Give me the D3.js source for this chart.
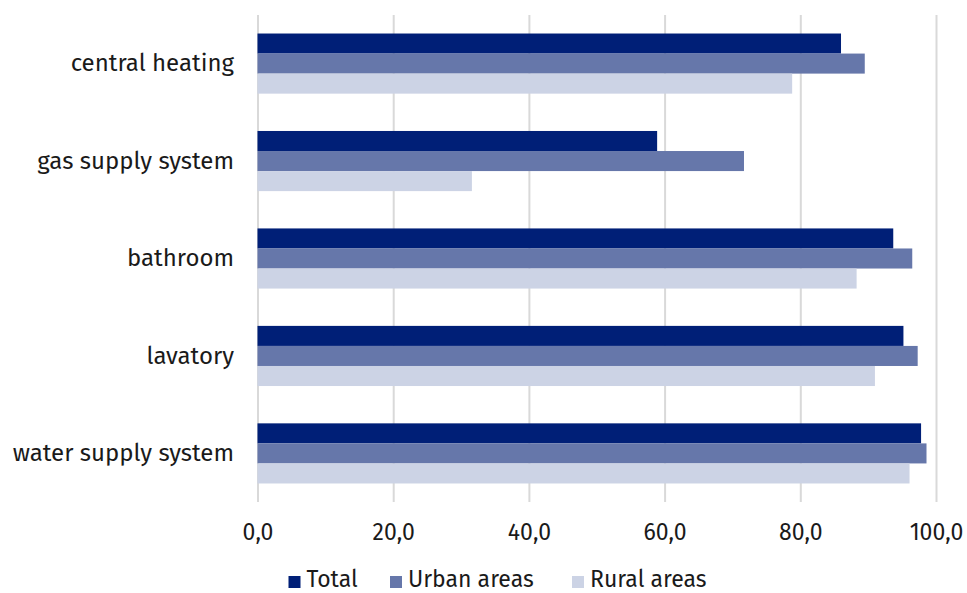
<!DOCTYPE html>
<html lang="en">
<head>
    <meta charset="UTF-8">
    <title>Dwellings equipment</title>
    <script src="https://cdn.jsdelivr.net/npm/d3@7"></script>
    <style>
        body { margin: 0; background: #fff; }
        text { font-family: "Fira Sans", "Noto Sans", "Open Sans", sans-serif; fill: #1a1a1a; }
    </style>
</head>
<body>
<svg width="967" height="593" id="svgcontainer"></svg>
<script>
    const categories = ['central heating', 'gas supply system', 'bathroom', 'lavatory', 'water supply system'];
    const seriesNames = ['Total', 'Urban areas', 'Rural areas'];
    const total = [86.0, 58.9, 93.7, 95.2, 97.8];
    const urban = [89.5, 71.7, 96.5, 97.3, 98.6];
    const rural = [78.8, 31.6, 88.3, 91.0, 96.1];
    const xTicks = [0, 20, 40, 60, 80, 100];
    const colors = ['#001f77', '#6677aa', '#ccd3e5'];

    const values = [total, urban, rural];
    const data = categories.map((c, i) => ({name: c, vals: seriesNames.map((s, k) => ({series: s, value: values[k][i]}))}));

    const svg = d3.select('#svgcontainer');
    const plotLeft = 257.5, plotRight = 936, plotTop = 15, plotBottom = 502;

    const xScale = d3.scaleLinear().domain([0, 100]).range([plotLeft, plotRight]);
    const yScale = d3.scaleBand().domain(categories).range([plotTop, plotBottom]).paddingInner(0.383).paddingOuter(0.19);
    const ySub = d3.scaleBand().domain(seriesNames).range([0, yScale.bandwidth()]);
    const color = d3.scaleOrdinal().domain(seriesNames).range(colors);

    // gridlines + tick labels
    const xAxis = d3.axisBottom(xScale).tickValues(xTicks).tickSize(-(plotBottom - plotTop))
        .tickFormat(d => d3.format('.1f')(d).replace('.', ','));
    const gx = svg.append('g').attr('transform', `translate(0,${plotBottom})`).call(xAxis);
    gx.select('.domain').remove();
    gx.selectAll('.tick line').attr('stroke', '#d9d9d9').attr('stroke-width', 2);
    gx.selectAll('.tick text').attr('font-size', 23).attr('dy', 0).attr('y', 38).attr('fill', '#1a1a1a');

    // bars
    const groups = svg.selectAll('.grp').data(data).join('g').attr('class', 'grp')
        .attr('transform', d => `translate(0,${yScale(d.name)})`);
    groups.selectAll('rect').data(d => d.vals).join('rect')
        .attr('x', xScale(0))
        .attr('y', d => ySub(d.series))
        .attr('width', d => xScale(d.value) - xScale(0))
        .attr('height', ySub.bandwidth())
        .attr('fill', d => color(d.series));

    // category labels
    const yAxis = d3.axisLeft(yScale).tickSize(0).tickPadding(0);
    const gy = svg.append('g').attr('transform', `translate(234,0)`).call(yAxis);
    gy.select('.domain').remove();
    gy.selectAll('.tick text').attr('font-size', 24).attr('fill', '#1a1a1a');

    // legend
    const legendX = [288.5, 390, 572];
    const lg = svg.selectAll('.leg').data(seriesNames).join('g').attr('class', 'leg')
        .attr('transform', (d, i) => `translate(${legendX[i]},0)`);
    lg.append('rect').attr('x', 0).attr('y', 576).attr('width', 12).attr('height', 12).attr('fill', d => color(d));
    lg.append('text').attr('x', 18).attr('y', 587).attr('font-size', 23).text(d => d);
</script>
</body>
</html>
